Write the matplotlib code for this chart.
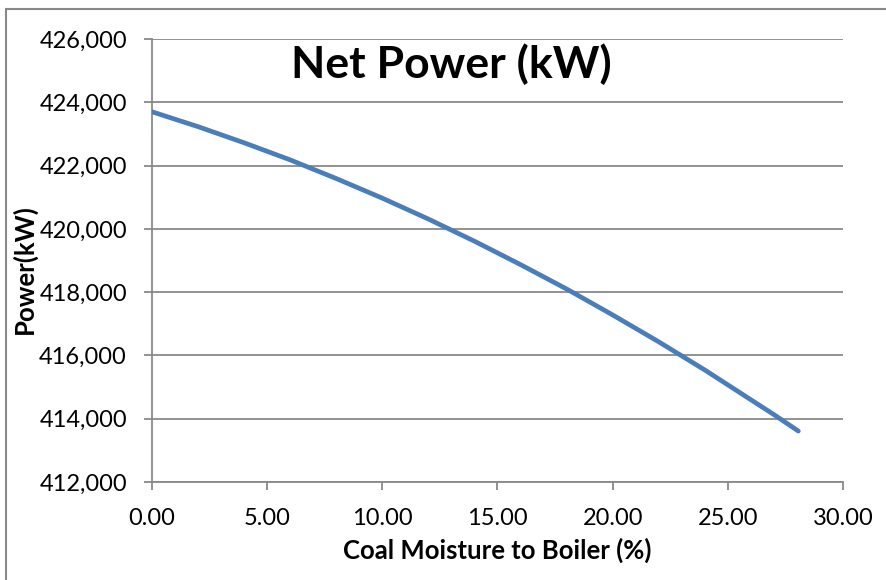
import matplotlib
matplotlib.use("Agg")
import matplotlib.pyplot as plt
from matplotlib.patches import Rectangle
from matplotlib.ticker import FuncFormatter, MultipleLocator

plt.rcParams['font.family'] = ['Lato', 'DejaVu Sans']

# Coal moisture (%) vs. net plant power (kW)
moisture = [0.0, 2.0, 4.0, 6.0, 8.0, 10.0, 12.0, 14.0, 16.0, 18.0,
            20.0, 22.0, 24.0, 26.0, 27.0, 28.06]
net_power = [423700, 423230, 422720, 422180, 421590, 420970, 420310, 419610,
             418870, 418100, 417280, 416430, 415540, 414600, 414130, 413610]

title = "Net Power (kW)"
x_label = "Coal Moisture to Boiler (%)"
y_label = "Power(kW)"
x_range = (0, 30)
y_range = (412000, 426000)

W, H = 887, 580
fig = plt.figure(figsize=(W / 100, H / 100), dpi=100)
ax_left, ax_right, ax_top, ax_bottom = 152, 843, 39, 482
ax = fig.add_axes([ax_left / W, 1 - ax_bottom / H,
                   (ax_right - ax_left) / W, (ax_bottom - ax_top) / H])

grid_col = "#898989"
ax.plot(moisture, net_power, color="#4a7ebb", lw=3.4,
        solid_capstyle="round", solid_joinstyle="round", zorder=3)

ax.set_xlim(*x_range)
ax.set_ylim(*y_range)
ax.xaxis.set_major_locator(MultipleLocator(5))
ax.yaxis.set_major_locator(MultipleLocator(2000))
ax.xaxis.set_major_formatter(FuncFormatter(lambda v, p: f"{v:.2f}"))
ax.yaxis.set_major_formatter(FuncFormatter(lambda v, p: f"{v:,.0f}"))

ax.grid(axis="y", color=grid_col, lw=1.3)
ax.set_axisbelow(True)
for s in ("top", "right"):
    ax.spines[s].set_visible(False)
for s in ("left", "bottom"):
    ax.spines[s].set_color(grid_col)
    ax.spines[s].set_linewidth(1.3)
    ax.spines[s].set_zorder(2)

ax.tick_params(axis="both", direction="out", length=6, width=1.3,
               color=grid_col, labelsize=17, labelcolor="black")
ax.tick_params(axis="y", pad=12)
ax.tick_params(axis="x", pad=13)

ax.set_xlabel(x_label, fontsize=18.5, fontweight="bold", labelpad=6)
ax.set_ylabel(y_label, fontsize=18.5, fontweight="bold")
ax.yaxis.set_label_coords((37 - ax_left) / (ax_right - ax_left),
                          (ax_bottom - 269) / (ax_bottom - ax_top))

fig.text(451 / W, 1 - 64 / H, title, fontsize=32, fontweight="bold",
         ha="center", va="center")

# chart frame
fig.patches.append(Rectangle((6 / W, -0.1), 1.2, 1 - 9 / H + 0.1,
                             transform=fig.transFigure, fill=False,
                             edgecolor=grid_col, lw=1.5, clip_on=False))

fig.savefig("out.png", dpi=100)
